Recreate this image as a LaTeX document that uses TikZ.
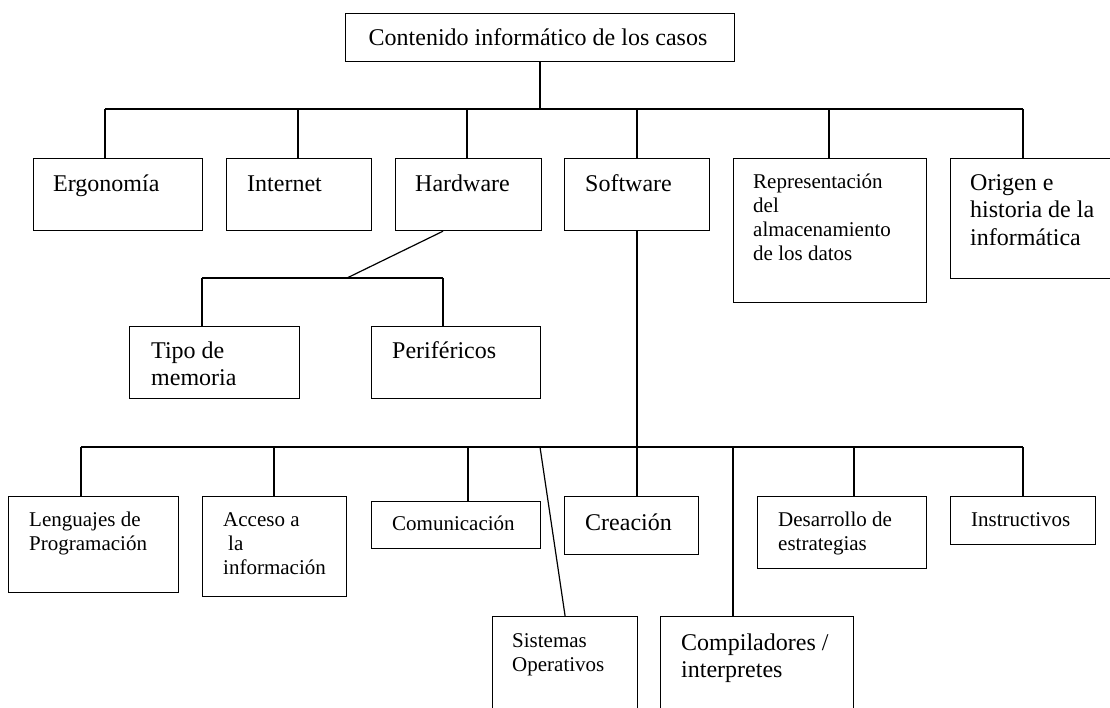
\documentclass[tikz,border=0pt]{standalone}
\usepackage{fontspec}
\setmainfont{Liberation Serif}
\begin{document}
\begin{tikzpicture}[x=1pt,y=-1pt,
  box/.style={draw, line width=1.2pt, inner sep=0pt, anchor=north west},
  big/.style={inner sep=0pt, anchor=north west, align=left, font=\fontsize{24}{27.6}\selectfont},
  small/.style={inner sep=0pt, anchor=north west, align=left, font=\fontsize{21}{24.15}\selectfont},
  link/.style={line width=1.2pt}]
\useasboundingbox (0,0) rectangle (1110,708);
\clip (0,0) rectangle (1110,708);
\fill[white] (0,0) rectangle (1110,708);

% boxes
\node[box, minimum width=389pt, minimum height=48pt] (root) at (345,13) {};
\node[box, minimum width=169pt, minimum height=72pt] (ergo) at (33,158) {};
\node[box, minimum width=145pt, minimum height=72pt] (inet) at (226,158) {};
\node[box, minimum width=146pt, minimum height=72pt] (hard) at (395,158) {};
\node[box, minimum width=145pt, minimum height=72pt] (soft) at (564,158) {};
\node[box, minimum width=193pt, minimum height=144pt] (repr) at (733,158) {};
\node[box, minimum width=164pt, minimum height=120pt] (orig) at (950,158) {};
\node[box, minimum width=170pt, minimum height=72pt] (tipo) at (129,326) {};
\node[box, minimum width=169pt, minimum height=72pt] (peri) at (371,326) {};
\node[box, minimum width=170pt, minimum height=96pt] (leng) at (8,496) {};
\node[box, minimum width=144pt, minimum height=100pt] (acce) at (202,496) {};
\node[box, minimum width=169pt, minimum height=47pt] (comu) at (371,501) {};
\node[box, minimum width=134pt, minimum height=58pt] (crea) at (564,496) {};
\node[box, minimum width=169pt, minimum height=72pt] (desa) at (757,496) {};
\node[box, minimum width=145pt, minimum height=48pt] (inst) at (950,496) {};
\node[box, minimum width=145pt, minimum height=100pt] (sist) at (492,616) {};
\node[box, minimum width=193pt, minimum height=100pt] (comp) at (660,616) {};

% texts
\node[big, anchor=north] (root-t) at (538,25.7) {\strut Contenido informático de los casos};
\node[big] (ergo-t) at (53,171.7) {\strut Ergonomía};
\node[big] (inet-t) at (247,171.7) {\strut Internet};
\node[big] (hard-t) at (415,171.7) {\strut Hardware};
\node[big] (soft-t) at (585,171.7) {\strut Software};
\node[small] (repr-t) at (753,171.1) {\strut Representación\\del\\almacenamiento\\de los datos};
\node[big] (orig-t) at (970,170.7) {\strut Origen e\\historia de la\\informática};
\node[big] (tipo-t) at (151,338.7) {\strut Tipo de\\memoria};
\node[big] (peri-t) at (392,338.7) {\strut Periféricos};
\node[small] (leng-t) at (29,509.1) {\strut Lenguajes de\\Programación};
\node[small] (acce-t) at (223,509.1) {\strut Acceso a\\\hspace*{5pt}la\\información};
\node[small] (comu-t) at (392,513.1) {\strut Comunicación};
\node[big] (crea-t) at (585,510.7) {\strut Creación};
\node[small] (desa-t) at (778,509.1) {\strut Desarrollo de\\estrategias};
\node[small] (inst-t) at (971,509.1) {\strut Instructivos};
\node[small] (sist-t) at (512,630.1) {\strut Sistemas\\Operativos};
\node[big] (comp-t) at (681,630.7) {\strut Compiladores /\\interpretes};

% top level connectors
\coordinate (r0) at (540,109);
\coordinate (jE) at (105,109);
\coordinate (jI) at (298,109);
\coordinate (jH) at (467,109);
\coordinate (jS) at (637,109);
\coordinate (jR) at (829,109);
\coordinate (jO) at (1023,109);
\draw[link] (root.south -| r0) -- (r0);
\draw[link] (jE) -- (jO);
\draw[link] (jE) -- (jE |- ergo.north);
\draw[link] (jI) -- (jI |- inet.north);
\draw[link] (jH) -- (jH |- hard.north);
\draw[link] (jS) -- (jS |- soft.north);
\draw[link] (jR) -- (jR |- repr.north);
\draw[link] (jO) -- (jO |- orig.north);

% hardware branch
\coordinate (hmid) at (347,278);
\coordinate (hL) at (202,278);
\coordinate (hR) at (443,278);
\draw[link] (hR |- hard.south) -- (hmid);
\draw[link] (hL) -- (hR);
\draw[link] (hL) -- (hL |- tipo.north);
\draw[link] (hR) -- (hR |- peri.north);

% software branch
\coordinate (sL) at (81,447);
\coordinate (sA) at (274,447);
\coordinate (sC) at (468,447);
\coordinate (sS) at (540,447);
\coordinate (sK) at (637,447);
\coordinate (sP) at (733,447);
\coordinate (sD) at (854,447);
\coordinate (sI) at (1023,447);
\draw[link] (sK |- soft.south) -- (sK |- crea.north);
\draw[link] (sL) -- (sI);
\draw[link] (sL) -- (sL |- leng.north);
\draw[link] (sA) -- (sA |- acce.north);
\draw[link] (sC) -- (sC |- comu.north);
\draw[link] (sS) -- (sist.north);
\draw[link] (sP) -- (sP |- comp.north);
\draw[link] (sD) -- (sD |- desa.north);
\draw[link] (sI) -- (sI |- inst.north);
\end{tikzpicture}
\end{document}
